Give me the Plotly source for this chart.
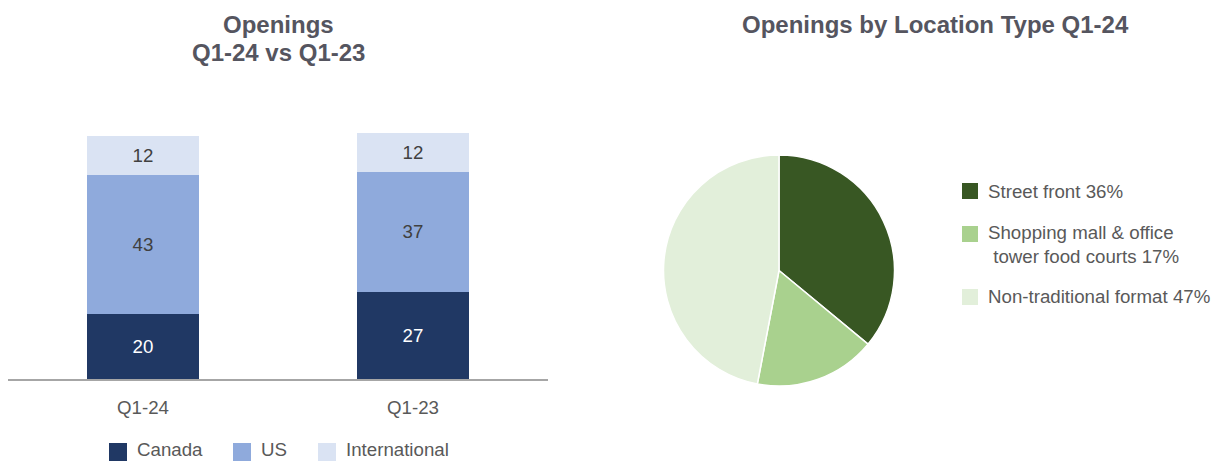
import plotly.graph_objects as go

# ---- data ----
periods = ["Q1-24", "Q1-23"]
canada = [20, 27]
us = [43, 37]
international = [12, 12]
bar_series = ["Canada", "US", "International"]

location_types = ["Street front", "Shopping mall & office<br>\u00a0tower food courts", "Non-traditional format"]
location_pct = [36, 17, 47]

left_title = ["Openings", "Q1-24 vs Q1-23"]
right_title = "Openings by Location Type Q1-24"

# ---- style ----
FONT = "Liberation Sans, Arial, sans-serif"
TXT = "#595959"
TITLE = "#55555F"
FS = 18.7
bar_colors = ["#203864", "#8FAADC", "#DAE3F3"]
bar_text_colors = ["#FFFFFF", "#404040", "#404040"]
pie_colors = ["#385723", "#A9D18E", "#E2EFDA"]

W, H = 1214, 462


def px(x):
    return x / W


def py(y):
    return (H - y) / H


fig = go.Figure()
for name, vals, col, tcol in zip(bar_series, [canada, us, international], bar_colors, bar_text_colors):
    fig.add_trace(go.Bar(
        x=periods, y=vals, name=name, marker=dict(color=col, line=dict(width=0)),
        text=[str(v) for v in vals], textposition="inside", insidetextanchor="middle",
        textfont=dict(family=FONT, size=FS, color=tcol), showlegend=False,
        xaxis="x", yaxis="y", hoverinfo="skip",
    ))

pie_labels = [f"{l} {p}%" for l, p in zip(location_types, location_pct)]
fig.add_trace(go.Pie(
    labels=pie_labels, values=location_pct, sort=False, direction="clockwise", rotation=0,
    marker=dict(colors=pie_colors, line=dict(color="white", width=1.5)),
    textinfo="none", hoverinfo="skip", showlegend=False,
    domain=dict(x=[px(663), px(895)], y=[py(386), py(155)]),
))

shapes = []
annotations = []

# bottom legend for bars
bar_leg_sq_x = [109, 233, 318]
for name, col, sx in zip(bar_series, bar_colors, bar_leg_sq_x):
    shapes.append(dict(type="rect", xref="paper", yref="paper", x0=px(sx), x1=px(sx + 18),
                       y0=py(461), y1=py(443), fillcolor=col, line=dict(width=0)))
    annotations.append(dict(text=name, x=px(sx + 27), y=py(461), xref="paper", yref="paper",
                            xanchor="left", yanchor="bottom", showarrow=False, borderpad=0,
                            font=dict(size=FS, color=TXT, family=FONT)))

# right legend for pie
pie_leg_sq_y = [183, 226, 289]
pie_leg_txt_y = [191, 244, 297]
for lab, col, sy, ty in zip(pie_labels, pie_colors, pie_leg_sq_y, pie_leg_txt_y):
    shapes.append(dict(type="rect", xref="paper", yref="paper", x0=px(962), x1=px(978),
                       y0=py(sy + 16), y1=py(sy), fillcolor=col, line=dict(width=0)))
    annotations.append(dict(text=lab, x=px(986), y=py(ty), xref="paper", yref="paper",
                            xanchor="left", yanchor="middle", align="left", showarrow=False,
                            font=dict(size=FS, color=TXT, family=FONT)))

# titles
for line, yc in zip(left_title, [24, 53]):
    annotations.append(dict(text=f"<b>{line}</b>", x=px(278), y=py(yc), xref="paper", yref="paper",
                            xanchor="center", yanchor="middle", showarrow=False,
                            font=dict(size=24, color=TITLE, family=FONT)))
annotations.append(dict(text=f"<b>{right_title}</b>", x=px(935), y=py(24), xref="paper", yref="paper",
                        xanchor="center", yanchor="middle", showarrow=False,
                        font=dict(size=24, color=TITLE, family=FONT)))

fig.update_layout(
    width=W, height=H, margin=dict(l=0, r=0, t=0, b=0),
    paper_bgcolor="white", plot_bgcolor="white",
    barmode="stack", bargap=0.585,
    font=dict(family=FONT, size=FS, color=TXT),
    xaxis=dict(domain=[px(8), px(548)], showgrid=False, showline=True, linecolor="#A6A6A6",
               linewidth=2, ticks="", tickfont=dict(size=FS, color=TXT), range=[-0.5, 1.5],
               fixedrange=True, ticklabelstandoff=11),
    yaxis=dict(domain=[py(379), py(120)], range=[0, 80], visible=False,
               showgrid=False, zeroline=False),
    uniformtext=dict(mode=False),
    showlegend=False,
    shapes=shapes,
    annotations=annotations,
)

fig.write_html("out.html")
